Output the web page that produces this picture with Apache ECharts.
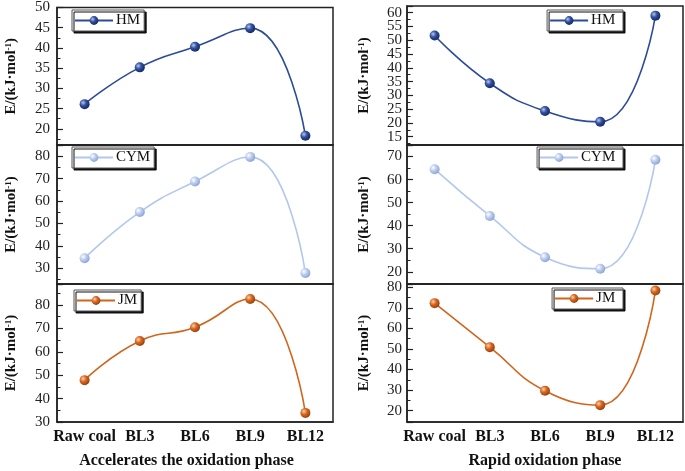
<!DOCTYPE html>
<html>
<head>
<meta charset="utf-8">
<script src="https://cdn.jsdelivr.net/npm/echarts@6/dist/echarts.min.js"></script>
<style>html,body{margin:0;padding:0;background:#fff}#c{width:685px;height:471px}</style>
</head>
<body>
<div id="c"></div>
<script>
// ---- data ----
var categories = ['Raw coal', 'BL3', 'BL6', 'BL9', 'BL12'];
var accelHM  = [26.1, 35.2, 40.3, 44.9, 18.3];
var accelCYM = [34.5, 55.1, 68.7, 79.7, 27.9];
var accelJM  = [47.9, 64.6, 70.5, 82.6, 33.9];
var rapidHM  = [51.7, 34.4, 24.3, 20.4, 58.9];
var rapidCYM = [64.5, 44.2, 26.3, 21.3, 68.6];
var rapidJM  = [72.3, 50.9, 29.7, 22.7, 78.4];
var seriesNames = ['HM', 'CYM', 'JM'];
var xNames = ['Accelerates the oxidation phase', 'Rapid oxidation phase'];
var yName = 'E/(kJ·mol{sup|-1})';

// ---- styling ----
var FONT = 'Liberation Serif';
var colors = {
  HM:  {line: '#2c4b98', hi: '#b7c6ec', mid: '#2f4fa0', dark: '#15275e'},
  CYM: {line: '#b3c7ec', hi: '#ffffff', mid: '#bccdef', dark: '#8aa3d3'},
  JM:  {line: '#d0651e', hi: '#fbd2ad', mid: '#d9661e', dark: '#93400e'}
};
function sphere(c) {
  return new echarts.graphic.RadialGradient(0.35, 0.35, 0.7, [
    {offset: 0, color: c.hi}, {offset: 0.45, color: c.mid}, {offset: 1, color: c.dark}
  ]);
}

var panels = [
  {col: 0, row: 0, name: 'HM',  data: accelHM,  min: 16,   max: 50,   split: 5,  step: 5},
  {col: 0, row: 1, name: 'CYM', data: accelCYM, min: 23,   max: 85,   split: 5,  step: 10},
  {col: 0, row: 2, name: 'JM',  data: accelJM,  min: 30,   max: 89,   split: 5,  step: 10},
  {col: 1, row: 0, name: 'HM',  data: rapidHM,  min: 12,   max: 62.4, split: 10, step: 5},
  {col: 1, row: 1, name: 'CYM', data: rapidCYM, min: 14.7, max: 75,   split: 5,  step: 10},
  {col: 1, row: 2, name: 'JM',  data: rapidJM,  min: 14.5, max: 81.6, split: 5,  step: 10}
];
var tops = [6, 145, 284];
var heights = [139, 139, 138];
var lefts = [57, 407];
var W = 276;

var legendPos = [
  [{left: 72, top: 10}, {left: 72, top: 147}, {left: 74, top: 290}],
  [{right: 62, top: 10}, {right: 62, top: 147}, {right: 62, top: 288}]
];

var grid = [], xAxis = [], yAxis = [], series = [], legend = [];
panels.forEach(function (p, i) {
  var c = colors[p.name];
  var sname = p.name + (p.col === 0 ? '' : ' ');
  grid.push({
    left: lefts[p.col], width: W, top: tops[p.row], height: heights[p.row],
    show: true, borderColor: '#222', borderWidth: 1.5, backgroundColor: 'transparent'
  });
  var bottom = p.row === 2;
  xAxis.push({
    type: 'category', gridIndex: i, data: categories, boundaryGap: true,
    axisLine: {show: true, lineStyle: {color: '#222', width: 1.5}},
    axisTick: {show: false},
    axisLabel: {show: bottom, fontFamily: FONT, fontWeight: 'bold', fontSize: 16, color: '#111', margin: 7, interval: 0},
    name: bottom ? xNames[p.col] : '',
    nameLocation: 'middle', nameGap: 31,
    nameTextStyle: {fontFamily: FONT, fontWeight: 'bold', fontSize: 16, color: '#111',
      padding: p.col === 0 ? [0, 17, 0, 0] : [0, 0, 0, 0]}
  });
  yAxis.push({
    type: 'value', gridIndex: i, min: p.min, max: p.max, splitNumber: p.split,
    splitLine: {show: false},
    axisLine: {show: true, lineStyle: {color: '#222', width: 1.5}},
    axisTick: {show: true, inside: true, length: 6, lineStyle: {color: '#222', width: 1.2}},
    minorTick: {show: true, splitNumber: 2, length: 3.5, lineStyle: {color: '#222', width: 1}},
    axisLabel: {fontFamily: FONT, fontSize: 15, color: '#222', margin: p.col === 0 ? 7 : 5,
      formatter: (function (step) {
        return function (v) { return Math.abs(v / step - Math.round(v / step)) < 1e-6 ? String(Math.round(v)) : ''; };
      })(p.step)},
    name: yName, nameLocation: 'middle', nameGap: p.col === 0 ? 38 : 35, nameRotate: 90,
    nameTextStyle: {fontFamily: FONT, fontWeight: 'bold', fontSize: 15, color: '#111',
      rich: {sup: {fontFamily: FONT, fontWeight: 'bold', fontSize: 9, color: '#111', verticalAlign: 'top', lineHeight: 10}}}
  });
  series.push({
    type: 'line', name: sname, xAxisIndex: i, yAxisIndex: i,
    data: p.data, smooth: 0.5, symbol: 'circle', symbolSize: 10,
    lineStyle: {color: c.line, width: 1.6},
    itemStyle: {color: sphere(c), borderWidth: 0}
  });
  var lp = legendPos[p.col][p.row];
  legend.push(Object.assign({
    data: [sname],
    orient: 'horizontal', itemWidth: 38, itemHeight: 11, itemGap: 0,
    padding: [3, 4, 3, 2],
    backgroundColor: '#fff', borderColor: '#555', borderWidth: 1,
    shadowColor: '#111', shadowOffsetX: 2, shadowOffsetY: 2, shadowBlur: 0,
    textStyle: {fontFamily: FONT, fontSize: 15, color: '#111', padding: [0, 0, 0, -2]},
    selectedMode: false
  }, lp));
});

var chart = echarts.init(document.getElementById('c'), null, {renderer: 'canvas'});
chart.setOption({
  animation: false,
  backgroundColor: '#fff',
  grid: grid, xAxis: xAxis, yAxis: yAxis, series: series, legend: legend
});
</script>
</body>
</html>
